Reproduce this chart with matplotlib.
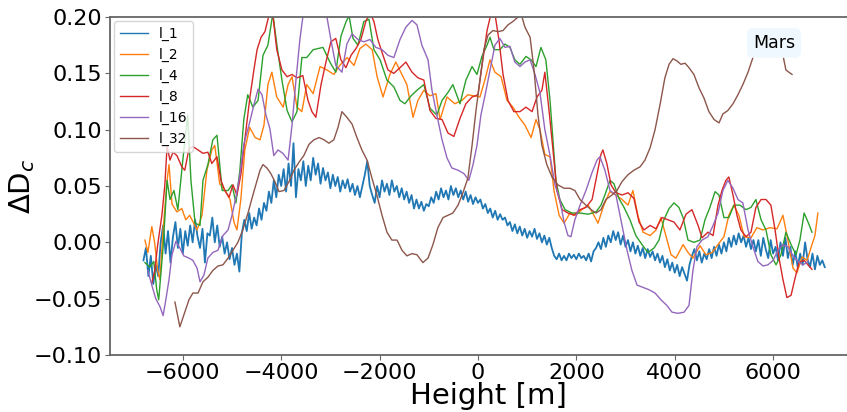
import matplotlib
matplotlib.use('Agg')
import matplotlib.pyplot as plt
import numpy as np

# l_1: raw curve, sampled every 50 m
l1_h = np.arange(-6800, 7051, 50)
l1_v = [
    -0.016, -0.005, -0.030, -0.012, -0.037, -0.020, -0.030, 0.000, 0.015, -0.010,
    0.010, -0.018, 0.005, 0.018, -0.005, 0.012, -0.010, 0.010, -0.003, 0.015,
    0.000, 0.020, 0.005, -0.005, 0.012, -0.018, 0.008, 0.006, 0.022, 0.000,
    0.015, -0.004, 0.005, -0.010, 0.000, -0.015, -0.005, -0.020, -0.010, -0.026,
    0.008, 0.020, 0.010, 0.026, 0.012, 0.022, 0.015, 0.030, 0.020, 0.035,
    0.028, 0.045, 0.035, 0.055, 0.040, 0.060, 0.050, 0.065, 0.045, 0.070,
    0.050, 0.088, 0.040, 0.065, 0.055, 0.072, 0.050, 0.068, 0.055, 0.075,
    0.060, 0.070, 0.052, 0.066, 0.055, 0.062, 0.048, 0.060, 0.050, 0.058,
    0.045, 0.055, 0.048, 0.056, 0.045, 0.052, 0.042, 0.050, 0.040, 0.050,
    0.060, 0.072, 0.050, 0.042, 0.035, 0.050, 0.040, 0.055, 0.045, 0.052,
    0.042, 0.055, 0.045, 0.050, 0.040, 0.048, 0.038, 0.045, 0.035, 0.042,
    0.030, 0.038, 0.030, 0.036, 0.028, 0.034, 0.032, 0.040, 0.035, 0.045,
    0.038, 0.048, 0.040, 0.046, 0.038, 0.050, 0.042, 0.048, 0.040, 0.046,
    0.038, 0.045, 0.036, 0.042, 0.034, 0.040, 0.035, 0.038, 0.030, 0.034,
    0.026, 0.030, 0.022, 0.028, 0.020, 0.025, 0.020, 0.022, 0.015, 0.018,
    0.010, 0.016, 0.008, 0.014, 0.006, 0.012, 0.004, 0.010, 0.005, 0.012,
    0.003, 0.008, 0.000, 0.006, -0.002, 0.004, -0.005, -0.012, -0.015, -0.010,
    -0.016, -0.012, -0.016, -0.010, -0.014, -0.011, -0.015, -0.010, -0.014, -0.012,
    -0.016, -0.010, -0.017, -0.008, -0.005, 0.000, -0.006, 0.004, -0.004, 0.006,
    0.000, 0.010, 0.002, 0.009, -0.002, 0.006, -0.004, 0.002, -0.008, 0.000,
    -0.010, -0.003, -0.012, -0.005, -0.014, -0.006, -0.013, -0.008, -0.016, -0.010,
    -0.018, -0.012, -0.022, -0.015, -0.025, -0.018, -0.027, -0.020, -0.030, -0.022,
    -0.028, -0.034, -0.020, -0.012, -0.006, -0.016, -0.008, -0.018, -0.010, -0.015,
    -0.006, -0.014, -0.004, -0.012, -0.002, -0.010, 0.000, -0.008, 0.004, -0.004,
    0.006, -0.002, 0.008, 0.000, 0.006, -0.004, 0.004, -0.006, 0.002, -0.008,
    0.002, -0.012, 0.004, -0.006, -0.014, 0.002, -0.010, -0.004, -0.016, 0.000,
    -0.012, 0.004, -0.014, -0.004, -0.020, -0.008, -0.022, -0.010, -0.020, 0.000,
    -0.015, -0.022, -0.010, -0.024, -0.012, -0.020, -0.016, -0.022,
]

l2_h = [-6770, -6710, -6630, -6570, -6510, -6465, -6400, -6320, -6280, -6220,
        -6120, -6020, -5940, -5860, -5710, -5610, -5510, -5410, -5350, -5250,
        -5140, -5040, -4960, -4900, -4820, -4740, -4640, -4530, -4430, -4350,
        -4270, -4190, -4090, -3960, -3860, -3780, -3680, -3580, -3480, -3350,
        -3210, -3070, -2930, -2810, -2660, -2520, -2400, -2280, -2150, -2050,
        -1930, -1790, -1670, -1545, -1445, -1320, -1220, -1100, -975, -855,
        -770, -630, -470, -325, -205, -80, 40, 140, 245, 345,
        470, 590, 710, 835, 955, 1080, 1180, 1260, 1360, 1465,
        1545, 1650, 1750, 1870, 1990, 2110, 2240, 2320, 2440, 2560,
        2680, 2805, 2930, 3050, 3150, 3250, 3355, 3500, 3620, 3720,
        3820, 3925, 4025, 4170, 4270, 4370, 4515, 4635, 4760, 4880,
        5000, 5100, 5200, 5305, 5410, 5550, 5670, 5795, 5935, 6080,
        6200, 6300, 6405, 6485, 6590, 6690, 6790, 6850, 6910]
l2_v = [0.002, -0.009, 0.014, -0.001, -0.025, -0.033, 0.011, 0.055, 0.069, 0.034,
        0.027, 0.030, 0.020, 0.024, 0.011, 0.024, 0.064, 0.082, 0.086, 0.052,
        0.046, 0.038, 0.018, 0.011, 0.038, 0.082, 0.102, 0.093, 0.091, 0.104,
        0.140, 0.151, 0.129, 0.120, 0.140, 0.147, 0.120, 0.116, 0.140, 0.132,
        0.156, 0.153, 0.149, 0.157, 0.164, 0.157, 0.172, 0.176, 0.171, 0.147,
        0.129, 0.149, 0.160, 0.149, 0.140, 0.111, 0.126, 0.135, 0.130, 0.132,
        0.109, 0.129, 0.123, 0.126, 0.131, 0.130, 0.129, 0.144, 0.162, 0.151,
        0.147, 0.126, 0.120, 0.111, 0.104, 0.093, 0.109, 0.100, 0.078, 0.076,
        0.046, 0.024, 0.017, 0.026, 0.024, 0.029, 0.033, 0.027, 0.017, 0.033,
        0.045, 0.042, 0.038, 0.033, 0.046, 0.024, 0.009, 0.006, 0.011, 0.022,
        0.006, -0.011, -0.014, -0.002, -0.009, -0.014, -0.003, -0.011, -0.009, -0.002,
        0.005, 0.024, 0.033, 0.024, 0.005, 0.004, 0.013, 0.011, 0.013, 0.012,
        0.024, 0.002, -0.023, -0.027, -0.013, -0.016, -0.002, 0.006, 0.026]

l4_h = [-6770, -6670, -6590, -6530, -6490, -6400, -6320, -6260, -6180, -6100,
        -6000, -5900, -5835, -5750, -5650, -5590, -5490, -5390, -5305, -5200,
        -5080, -5000, -4920, -4840, -4760, -4680, -4575, -4470, -4370, -4270,
        -4170, -4090, -3985, -3880, -3780, -3680, -3580, -3480, -3350, -3250,
        -3150, -3010, -2890, -2785, -2680, -2620, -2540, -2440, -2320, -2215,
        -2115, -1990, -1850, -1710, -1585, -1485, -1360, -1240, -1100, -975,
        -835, -730, -610, -510, -365, -245, -120, -20, 80, 185,
        245, 325, 445, 550, 650, 750, 855, 975, 1080, 1180,
        1280, 1380, 1465, 1525, 1585, 1665, 1770, 1910, 2075, 2240,
        2400, 2500, 2580, 2685, 2765, 2865, 2970, 3090, 3210, 3335,
        3455, 3580, 3680, 3780, 3885, 3985, 4085, 4170, 4270, 4390,
        4515, 4615, 4715, 4820, 4900, 5000, 5100, 5205, 5325, 5450,
        5550, 5650, 5755, 5855, 5955, 6060, 6160, 6260, 6365, 6465,
        6545, 6630, 6710, 6790]
l4_v = [-0.018, -0.022, -0.017, -0.042, -0.051, -0.004, 0.055, 0.038, 0.046, 0.029,
        0.073, 0.113, 0.055, 0.017, 0.015, 0.055, 0.069, 0.091, 0.095, 0.046,
        0.046, 0.051, 0.035, 0.064, 0.109, 0.131, 0.120, 0.126, 0.166, 0.175,
        0.203, 0.176, 0.144, 0.117, 0.107, 0.116, 0.164, 0.164, 0.171, 0.172,
        0.173, 0.160, 0.151, 0.183, 0.196, 0.201, 0.181, 0.175, 0.196, 0.198,
        0.171, 0.162, 0.144, 0.138, 0.126, 0.123, 0.130, 0.135, 0.140, 0.119,
        0.113, 0.126, 0.133, 0.140, 0.123, 0.144, 0.156, 0.149, 0.165, 0.175,
        0.182, 0.171, 0.171, 0.176, 0.173, 0.162, 0.158, 0.165, 0.162, 0.156,
        0.173, 0.162, 0.126, 0.091, 0.055, 0.038, 0.029, 0.026, 0.026, 0.025,
        0.027, 0.033, 0.042, 0.055, 0.052, 0.039, 0.031, 0.020, 0.006, -0.002,
        -0.009, -0.005, 0.002, 0.020, 0.030, 0.035, 0.031, 0.022, 0.002, 0.000,
        0.002, 0.020, 0.031, 0.045, 0.042, 0.022, 0.022, 0.033, 0.033, 0.029,
        0.031, 0.038, 0.020, 0.011, -0.011, -0.020, -0.011, 0.009, -0.002, -0.011,
        0.002, 0.026, 0.018, 0.009]

l8_h = [-6630, -6570, -6510, -6425, -6365, -6320, -6260, -6200, -6120, -6020,
        -5960, -5875, -5795, -5690, -5590, -5490, -5410, -5305, -5225, -5145,
        -5060, -4980, -4900, -4820, -4740, -4635, -4555, -4490, -4410, -4330,
        -4230, -4170, -4090, -3985, -3880, -3780, -3680, -3560, -3455, -3375,
        -3295, -3190, -3090, -2990, -2890, -2785, -2685, -2580, -2480, -2380,
        -2280, -2195, -2115, -2035, -1930, -1830, -1710, -1585, -1465, -1340,
        -1220, -1100, -975, -855, -730, -610, -490, -365, -245, -120,
        0, 80, 185, 265, 345, 425, 510, 610, 730, 855,
        975, 1100, 1200, 1300, 1360, 1445, 1525, 1605, 1710, 1830,
        1950, 2075, 2195, 2320, 2420, 2500, 2540, 2620, 2705, 2805,
        2930, 3050, 3170, 3275, 3375, 3500, 3620, 3740, 3865, 3985,
        4105, 4230, 4350, 4475, 4555, 4675, 4780, 4880, 4960, 5040,
        5100, 5185, 5265, 5345, 5450, 5550, 5650, 5755, 5855, 5955,
        6040, 6120, 6200, 6280, 6365, 6445, 6525, 6630, 6710, 6790]
l8_v = [-0.036, -0.025, -0.002, 0.024, 0.051, 0.085, 0.073, 0.080, 0.077, 0.067,
        0.064, 0.083, 0.085, 0.082, 0.079, 0.080, 0.070, 0.076, 0.055, 0.046,
        0.040, 0.051, 0.042, 0.060, 0.091, 0.129, 0.153, 0.171, 0.182, 0.187,
        0.205, 0.202, 0.171, 0.153, 0.147, 0.149, 0.146, 0.148, 0.126, 0.116,
        0.111, 0.140, 0.160, 0.178, 0.181, 0.162, 0.155, 0.166, 0.172, 0.180,
        0.196, 0.204, 0.196, 0.180, 0.166, 0.153, 0.150, 0.155, 0.160, 0.151,
        0.146, 0.144, 0.117, 0.110, 0.109, 0.097, 0.094, 0.110, 0.123, 0.129,
        0.131, 0.156, 0.188, 0.203, 0.203, 0.180, 0.149, 0.126, 0.116, 0.116,
        0.120, 0.116, 0.129, 0.135, 0.151, 0.117, 0.082, 0.046, 0.029, 0.026,
        0.024, 0.029, 0.031, 0.038, 0.060, 0.078, 0.082, 0.070, 0.051, 0.044,
        0.042, 0.044, 0.039, 0.018, 0.011, 0.015, 0.012, 0.022, 0.020, 0.018,
        0.011, 0.025, 0.029, 0.015, 0.004, 0.009, 0.006, 0.033, 0.046, 0.055,
        0.058, 0.042, 0.024, 0.011, 0.005, 0.009, 0.031, 0.038, 0.038, 0.033,
        0.011, -0.014, -0.033, -0.049, -0.047, -0.032, -0.018, -0.016, -0.020, -0.024]

l16_h = [-6710, -6630, -6550, -6465, -6400, -6345, -6280, -6220, -6140, -6060,
         -5980, -5875, -5795, -5710, -5650, -5570, -5490, -5390, -5285, -5185,
         -5080, -5000, -4920, -4840, -4760, -4655, -4555, -4470, -4390, -4310,
         -4230, -4150, -4065, -3965, -3860, -3780, -3700, -3620, -3560, -3480,
         -3150, -3070, -2990, -2890, -2765, -2665, -2560, -2440, -2320, -2195,
         -2075, -1950, -1830, -1710, -1585, -1465, -1340, -1240, -1140, -1015,
         -935, -835, -730, -630, -530, -405, -285, -185, -100, -20,
         60, 165, 265, 345, 445, 550, 650, 750, 855, 955,
         1060, 1160, 1260, 1360, 1465, 1565, 1665, 1750, 1830, 1890,
         1970, 2075, 2195, 2320, 2420, 2480, 2580, 2685, 2805, 2930,
         3030, 3130, 3235, 3355, 3475, 3600, 3720, 3840, 3945, 4065,
         4190, 4290, 4370, 4450, 4555, 4675, 4780, 4880, 4980, 5080,
         5185, 5285, 5385, 5490, 5590, 5690, 5795, 5895, 6000, 6100,
         6200, 6300, 6405, 6505, 6610, 6710]
l16_v = [-0.025, -0.038, -0.050, -0.057, -0.065, -0.051, -0.033, -0.011, 0.001, -0.005,
         -0.012, -0.014, -0.016, -0.023, -0.035, -0.029, -0.014, -0.009, -0.007, 0.006,
         0.011, 0.024, 0.040, 0.060, 0.087, 0.104, 0.122, 0.136, 0.131, 0.113,
         0.101, 0.077, 0.082, 0.079, 0.073, 0.104, 0.144, 0.180, 0.200, 0.212,
         0.212, 0.200, 0.180, 0.157, 0.151, 0.176, 0.185, 0.180, 0.178, 0.180,
         0.173, 0.171, 0.166, 0.164, 0.180, 0.191, 0.197, 0.193, 0.175, 0.162,
         0.135, 0.113, 0.091, 0.075, 0.066, 0.064, 0.061, 0.055, 0.069, 0.086,
         0.113, 0.135, 0.157, 0.175, 0.181, 0.173, 0.174, 0.160, 0.156, 0.160,
         0.162, 0.149, 0.133, 0.100, 0.077, 0.051, 0.038, 0.018, 0.006, 0.005,
         0.020, 0.033, 0.046, 0.062, 0.073, 0.076, 0.064, 0.046, 0.042, 0.015,
         -0.007, -0.025, -0.038, -0.040, -0.042, -0.045, -0.051, -0.056, -0.062, -0.063,
         -0.062, -0.056, -0.025, -0.004, 0.002, 0.005, 0.015, 0.026, 0.046, 0.055,
         0.048, 0.038, 0.035, 0.011, -0.004, -0.017, -0.021, -0.020, -0.016, -0.007,
         -0.002, -0.004, -0.012, -0.017, -0.020, -0.017]

l32_h = [-6160, -6060, -5960, -5875, -5795, -5690, -5590, -5490, -5390, -5285,
         -5185, -5080, -4980, -4880, -4780, -4675, -4575, -4490, -4430, -4370,
         -4290, -4210, -4130, -4045, -3945, -3840, -3740, -3640, -3540, -3435,
         -3335, -3230, -3130, -3030, -2930, -2845, -2765, -2665, -2560, -2460,
         -2360, -2255, -2155, -2055, -1950, -1850, -1750, -1645, -1545, -1445,
         -1340, -1240, -1120, -1015, -915, -815, -710, -610, -510, -405,
         -305, -205, -120, -40, 40, 120, 205, 305, 405, 510,
         610, 710, 815, 875, 955, 1060, 1140, 1220, 1300, 1400,
         1505, 1625, 1750, 1870, 1970, 2075, 2195, 2300, 2400, 2500,
         2600, 2725, 2825, 2930, 3050, 3170, 3295, 3395, 3500, 3600,
         3700, 3800, 3885, 3965, 4045, 4125, 4210, 4290, 4390, 4495,
         4595, 4695, 4800, 4900, 4980, 5080, 5185, 5285, 5385, 5490,
         5590, 5690, 5795, 5895, 6000, 6100, 6200, 6260, 6320, 6385]
l32_v = [-0.053, -0.075, -0.062, -0.051, -0.045, -0.045, -0.035, -0.031, -0.025, -0.021,
         -0.020, -0.014, -0.007, 0.000, 0.011, 0.026, 0.042, 0.055, 0.064, 0.069,
         0.066, 0.061, 0.054, 0.045, 0.046, 0.054, 0.064, 0.071, 0.077, 0.087,
         0.091, 0.093, 0.091, 0.088, 0.091, 0.102, 0.116, 0.111, 0.105, 0.093,
         0.082, 0.073, 0.057, 0.042, 0.024, 0.009, 0.002, 0.002, -0.007, -0.012,
         -0.010, -0.011, -0.018, -0.014, -0.002, 0.013, 0.022, 0.024, 0.026, 0.033,
         0.044, 0.057, 0.086, 0.117, 0.144, 0.171, 0.184, 0.188, 0.187, 0.188,
         0.193, 0.196, 0.200, 0.203, 0.191, 0.182, 0.153, 0.113, 0.086, 0.069,
         0.058, 0.051, 0.048, 0.048, 0.046, 0.038, 0.033, 0.029, 0.026, 0.029,
         0.038, 0.042, 0.046, 0.054, 0.060, 0.064, 0.067, 0.073, 0.084, 0.100,
         0.122, 0.146, 0.158, 0.163, 0.161, 0.158, 0.159, 0.155, 0.149, 0.137,
         0.128, 0.116, 0.109, 0.106, 0.114, 0.117, 0.123, 0.131, 0.140, 0.151,
         0.164, 0.175, 0.182, 0.187, 0.188, 0.184, 0.166, 0.153, 0.151, 0.149]

series = [('l_1', l1_h, l1_v, 1.3), ('l_2', l2_h, l2_v, 1.0), ('l_4', l4_h, l4_v, 1.0),
          ('l_8', l8_h, l8_v, 1.0), ('l_16', l16_h, l16_v, 1.0), ('l_32', l32_h, l32_v, 1.0)]
colors = ['tab:blue', 'tab:orange', 'tab:green', 'tab:red', 'tab:purple', 'tab:brown']

fig = plt.figure(figsize=(8.47, 4.12), dpi=100)
ax = fig.add_axes([110/847, 57/412, 749/847, 338/412])

for (name, h, v, lw), c in zip(series, colors):
    ax.plot(h, v, color=c, linewidth=lw, label=name)

ax.set_xlim(-7480, 7746)
ax.set_ylim(-0.10, 0.20)
ax.set_yticks(np.arange(-0.10, 0.201, 0.05))
ax.yaxis.set_major_formatter('{x:.2f}')
ax.tick_params(labelsize=16, color='0.4', pad=2)
for s in ax.spines.values():
    s.set_color('0.4')
    s.set_linewidth(1.3)

ax.set_xlabel('Height [m]', fontsize=21)
ax.xaxis.set_label_coords(0.505, -0.08)
ax.xaxis.label.set_va('top')
ax.set_ylabel(r'ΔD$_c$', fontsize=21)
ax.yaxis.set_label_coords(-0.098, 0.5)

leg = ax.legend(loc='upper left', fontsize=10, borderaxespad=0.3)
for line in leg.get_lines():
    line.set_linewidth(1.0)

ax.text(6018, 0.177, 'Mars', fontsize=12.5, ha='center', va='center',
        bbox=dict(boxstyle='round', facecolor='aliceblue', edgecolor='aliceblue'))

fig.savefig('out.png', dpi=100)
